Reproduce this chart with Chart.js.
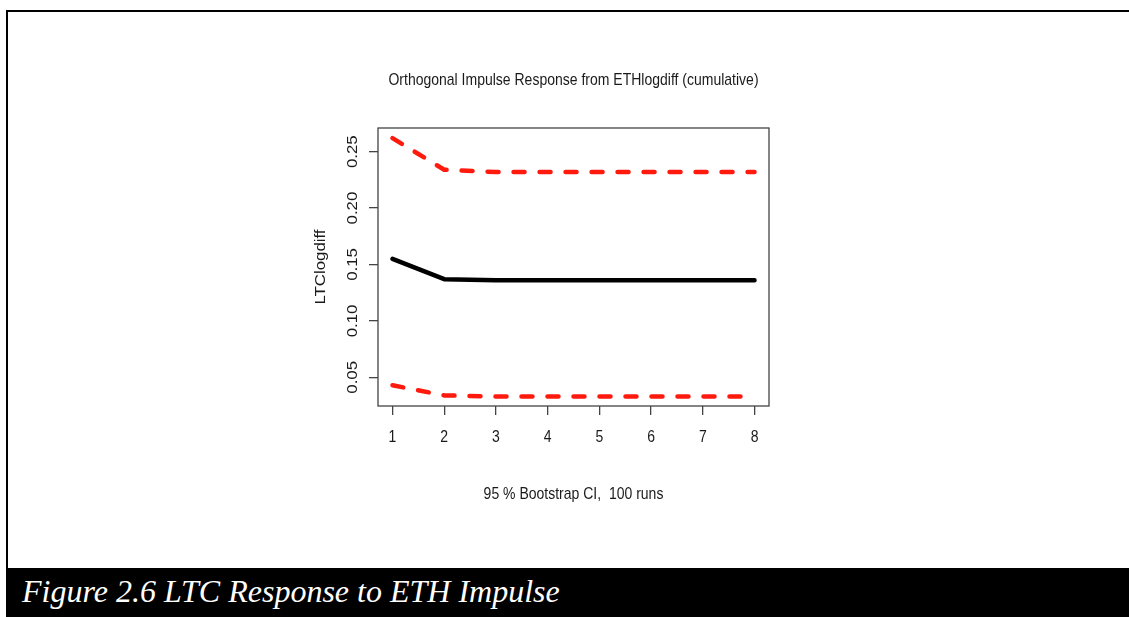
<!DOCTYPE html>
<html>
<head>
<meta charset="utf-8">
<title>LTC Response to ETH Impulse</title>
<script src="https://cdn.jsdelivr.net/npm/chart.js@4"></script>
<style>
  html, body { margin: 0; padding: 0; background: #fff; width: 1129px; height: 617px; overflow: hidden; }
  #frame { position: absolute; left: 6px; top: 10px; right: 0; bottom: 0; border-top: 2px solid #000; border-left: 2px solid #000; }
  #chartBox { position: absolute; left: 0; top: 0; width: 1129px; height: 568px; }
  #caption {
    position: absolute; left: 6px; top: 568px; right: 0; bottom: 0; background: #000; color: #fff;
    font-family: "Liberation Serif", "Times New Roman", serif; font-style: italic; font-size: 32px;
    padding-left: 16px; line-height: 47px; white-space: nowrap;
  }
</style>
</head>
<body>
<div id="frame"></div>
<div id="chartBox"><canvas id="irfChart" width="1129" height="568"></canvas></div>
<div id="caption">Figure 2.6 LTC Response to ETH Impulse</div>
<script>
// Horizons et réponses
const horizons = [1, 2, 3, 4, 5, 6, 7, 8];
const irfValues = [0.155, 0.137, 0.136, 0.136, 0.136, 0.136, 0.136, 0.136];
const upperCI = [0.262, 0.234, 0.232, 0.232, 0.232, 0.232, 0.232, 0.232];
const lowerCI = [0.043, 0.034, 0.033, 0.033, 0.033, 0.033, 0.033, 0.033];
const yTickValues = [0.05, 0.10, 0.15, 0.20, 0.25];
const yTickLabels = ["0.05", "0.10", "0.15", "0.20", "0.25"];

const chartTitle = "Orthogonal Impulse Response from ETHlogdiff (cumulative)";
const xTitle = "95 % Bootstrap CI,  100 runs";
const yTitle = "LTClogdiff";

const FONT = '"Liberation Sans", Arial, Helvetica, sans-serif';
const STRETCH = 1.2; // le graphique R d'origine est étiré verticalement
Chart.defaults.font.family = FONT;

const toPoints = (vals) => vals.map((v, i) => ({ x: horizons[i], y: v }));

// texte horizontal, étiré verticalement
function hText(ctx, txt, x, y) {
    ctx.save();
    ctx.translate(x, y);
    ctx.scale(1, STRETCH);
    ctx.fillText(txt, 0, 0);
    ctx.restore();
}
// texte vertical (de bas en haut), étiré dans le sens de la lecture
function vText(ctx, txt, x, y) {
    ctx.save();
    ctx.translate(x, y);
    ctx.rotate(-Math.PI / 2);
    ctx.scale(STRETCH, 1);
    ctx.fillText(txt, 0, 0);
    ctx.restore();
}

// Cadre + textes façon R
const rStylePlugin = {
    id: 'rStyle',
    afterDraw(chart) {
        const { ctx, chartArea } = chart;
        const xScale = chart.scales.x;
        const yScale = chart.scales.y;
        const cx = (chartArea.left + chartArea.right) / 2;
        const cy = (chartArea.top + chartArea.bottom) / 2;
        ctx.save();
        ctx.strokeStyle = '#444';
        ctx.lineWidth = 1.3;
        ctx.strokeRect(chartArea.left, chartArea.top, chartArea.right - chartArea.left, chartArea.bottom - chartArea.top);

        ctx.fillStyle = '#1a1a1a';
        ctx.font = '14px ' + FONT;
        ctx.textAlign = 'center';
        ctx.textBaseline = 'middle';

        hText(ctx, chartTitle, cx, chartArea.top - 48);
        horizons.forEach(v => hText(ctx, String(v), xScale.getPixelForValue(v), chartArea.bottom + 31));
        hText(ctx, xTitle, cx, chartArea.bottom + 88);

        yTickValues.forEach((v, i) => vText(ctx, yTickLabels[i], chartArea.left - 25, yScale.getPixelForValue(v)));
        vText(ctx, yTitle, chartArea.left - 57, cy);
        ctx.restore();
    }
};

const ctx = document.getElementById('irfChart').getContext('2d');
new Chart(ctx, {
    type: 'line',
    data: {
        datasets: [
            {
                label: 'IRF',
                data: toPoints(irfValues),
                borderColor: '#000',
                borderWidth: 4.5,
                pointRadius: 0,
                borderCapStyle: 'round',
                borderJoinStyle: 'round'
            },
            {
                label: 'Upper',
                data: toPoints(upperCI),
                borderColor: '#ff1a0d',
                borderWidth: 4.5,
                borderDash: [11, 15],
                borderCapStyle: 'round',
                pointRadius: 0
            },
            {
                label: 'Lower',
                data: toPoints(lowerCI),
                borderColor: '#ff1a0d',
                borderWidth: 4.5,
                borderDash: [11, 15],
                borderCapStyle: 'round',
                pointRadius: 0
            }
        ]
    },
    options: {
        responsive: false,
        animation: false,
        layout: { padding: { left: 308, right: 360, top: 128, bottom: 62 } },
        plugins: {
            legend: { display: false },
            tooltip: { enabled: false },
            title: { display: false }
        },
        scales: {
            x: {
                type: 'linear',
                min: 0.72,
                max: 8.28,
                afterBuildTicks: (scale) => { scale.ticks = horizons.map(v => ({ value: v })); },
                afterFit: (scale) => { scale.height = 100; },
                ticks: { display: false },
                grid: { drawOnChartArea: false, drawTicks: true, tickLength: 9, color: '#444', lineWidth: 1.3 },
                border: { display: false }
            },
            y: {
                type: 'linear',
                min: 0.0246,
                max: 0.271,
                afterBuildTicks: (scale) => { scale.ticks = yTickValues.map(v => ({ value: v })); },
                afterFit: (scale) => { scale.width = 70; },
                ticks: { display: false },
                grid: { drawOnChartArea: false, drawTicks: true, tickLength: 9, color: '#444', lineWidth: 1.3 },
                border: { display: false }
            }
        }
    },
    plugins: [rStylePlugin]
});
</script>
</body>
</html>
